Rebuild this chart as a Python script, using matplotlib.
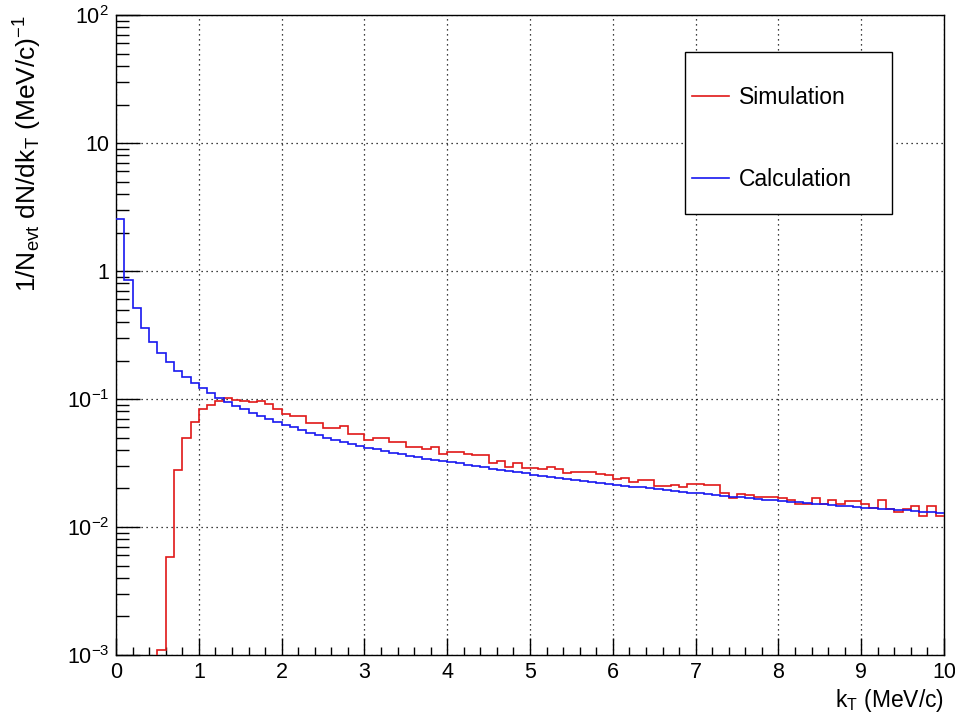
import numpy as np
import matplotlib
matplotlib.use('Agg')
import matplotlib.pyplot as plt
from matplotlib.patches import Rectangle
from matplotlib.ticker import MultipleLocator, LogLocator, NullFormatter

plt.rcParams['font.family'] = ['Liberation Sans', 'DejaVu Sans']
plt.rcParams['mathtext.fontset'] = 'custom'
plt.rcParams['mathtext.rm'] = 'Liberation Sans'
plt.rcParams['mathtext.it'] = 'Liberation Sans'
plt.rcParams['mathtext.default'] = 'regular'

# histogram binning: 100 bins of 0.1 MeV/c from 0 to 10
kt_min, kt_max, n_bins = 0.0, 10.0, 100

# simulation histogram (zero = empty bin)
simulation = [
    0, 0, 0, 0, 0, 0.0011, 0.0058, 0.028, 0.050, 0.066,
    0.084, 0.090, 0.096, 0.101, 0.099, 0.097, 0.094, 0.096, 0.091, 0.084,
    0.077, 0.074, 0.074, 0.0645, 0.0645, 0.059, 0.059, 0.0615, 0.0533, 0.0533,
    0.0479, 0.0495, 0.0495, 0.0459, 0.0459, 0.0425, 0.0425, 0.041, 0.042, 0.037,
    0.0384, 0.0384, 0.037, 0.0366, 0.0366, 0.0315, 0.033, 0.0294, 0.0315, 0.029,
    0.029, 0.0286, 0.0294, 0.0286, 0.0265, 0.027, 0.0268, 0.027, 0.026, 0.0255,
    0.0238, 0.0241, 0.0224, 0.0232, 0.0232, 0.0211, 0.0211, 0.0214, 0.0206, 0.0217,
    0.0217, 0.0213, 0.0213, 0.0184, 0.0169, 0.018, 0.0177, 0.0173, 0.0171, 0.0171,
    0.0168, 0.0163, 0.0152, 0.0152, 0.0169, 0.0152, 0.0163, 0.0150, 0.0160, 0.0160,
    0.0152, 0.0141, 0.0163, 0.0138, 0.0131, 0.0138, 0.0147, 0.0123, 0.0145, 0.0123,
]

# calculation histogram
calculation = [
    2.53, 0.85, 0.51, 0.36, 0.28, 0.231, 0.193, 0.166, 0.148, 0.133,
    0.121, 0.111, 0.102, 0.095, 0.089, 0.083, 0.078, 0.074, 0.070, 0.066,
    0.063, 0.060, 0.057, 0.0545, 0.052, 0.050, 0.048, 0.0462, 0.0445, 0.043,
    0.0418, 0.0405, 0.0393, 0.0382, 0.0371, 0.0361, 0.0352, 0.0343, 0.0335, 0.0327,
    0.0322, 0.0314, 0.0307, 0.0299, 0.0292, 0.0286, 0.0280, 0.0274, 0.0268, 0.0263,
    0.0257, 0.0252, 0.0247, 0.0243, 0.0239, 0.0234, 0.0230, 0.0226, 0.0222, 0.0218,
    0.0214, 0.0211, 0.0207, 0.0204, 0.0201, 0.0198, 0.0195, 0.0192, 0.0189, 0.0186,
    0.0183, 0.0181, 0.0178, 0.0176, 0.0173, 0.0171, 0.0169, 0.0166, 0.0164, 0.0162,
    0.0160, 0.0158, 0.0156, 0.0154, 0.0152, 0.0150, 0.0149, 0.0147, 0.0145, 0.0144,
    0.0142, 0.0141, 0.0139, 0.0138, 0.0136, 0.0135, 0.0133, 0.0132, 0.0131, 0.0129,
]

y_ticks = [1e-3, 1e-2, 1e-1, 1, 10, 100]
y_tick_labels = [r'$10^{-3}$', r'$10^{-2}$', r'$10^{-1}$', '1', '10', r'$10^{2}$']

edges = np.linspace(kt_min, kt_max, n_bins + 1)
sim = np.array(simulation, dtype=float)
sim = np.where(sim > 0, sim, 1e-9)  # empty bins fall below the axis on log scale
calc = np.array(calculation, dtype=float)

fig = plt.figure(figsize=(9.55, 7.15), dpi=100)
ax = fig.add_axes([0.1215, 0.0839, 0.867, 0.895])

ax.stairs(sim, edges, baseline=None, color='#e01818', linewidth=1.2, label='Simulation', zorder=3)
ax.stairs(calc, edges, baseline=None, color='#1818f0', linewidth=1.2, label='Calculation', zorder=4)

ax.set_yscale('log')
ax.set_xlim(kt_min, kt_max)
ax.set_ylim(1e-3, 1e2)

ax.set_yticks(y_ticks)
ax.set_yticklabels(y_tick_labels)
ax.yaxis.set_minor_locator(LogLocator(base=10, subs=np.arange(2, 10)))
ax.yaxis.set_minor_formatter(NullFormatter())
ax.xaxis.set_major_locator(MultipleLocator(1))
ax.xaxis.set_minor_locator(MultipleLocator(0.2))

ax.tick_params(which='both', direction='in', labelsize=15.5, width=1)
ax.tick_params(axis='y', which='major', length=17, pad=5)
ax.tick_params(axis='y', which='minor', length=9)
ax.tick_params(axis='x', which='major', length=12, pad=5)
ax.tick_params(axis='x', which='minor', length=6)

ax.grid(True, which='major', linestyle=(0, (1, 3)), color='black', linewidth=0.9, zorder=1)
ax.set_axisbelow(True)
for s in ax.spines.values():
    s.set_linewidth(1)

ax.set_xlabel(r'k$_{T}$ (MeV/c)', fontsize=16.5, loc='right')
ax.xaxis.set_label_coords(1.0, -0.05)
ax.set_ylabel(r'1/N$_{evt}$ dN/dk$_{T}$ (MeV/c)$^{-1}$', fontsize=19, loc='top')
ax.yaxis.set_label_coords(-0.087, 1.0)

# legend box drawn separately so its padding can match the reference
ax.add_patch(Rectangle((0.687, 0.689), 0.25, 0.253, transform=ax.transAxes,
                       facecolor='white', edgecolor='black', linewidth=1, zorder=5))
leg = ax.legend(loc='upper left', bbox_to_anchor=(0.6957, 0.889), frameon=False,
                fontsize=16.5, labelspacing=2.55, borderpad=0, handlelength=1.6,
                handletextpad=0.45, borderaxespad=0)
leg.set_zorder(6)

plt.savefig('out.png', dpi=100)
